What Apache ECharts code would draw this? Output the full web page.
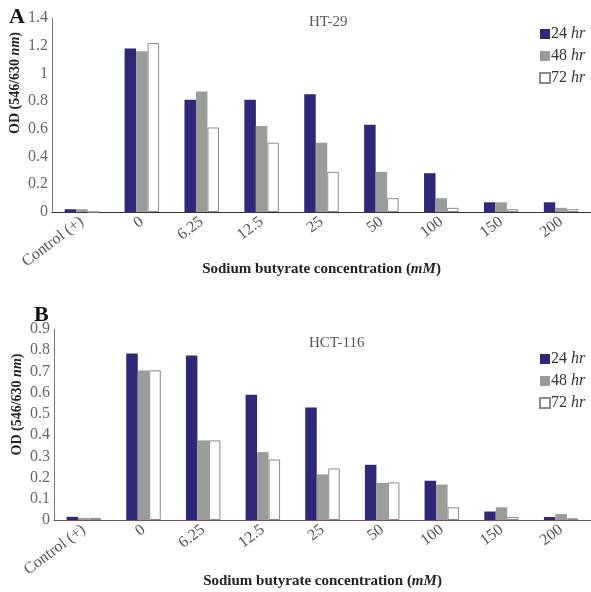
<!DOCTYPE html>
<html><head><meta charset="utf-8">
<script src="https://cdn.jsdelivr.net/npm/echarts@6/dist/echarts.min.js"></script>
<style>html,body{margin:0;padding:0;background:#fff}#c{width:591px;height:592px}</style>
</head><body><div id="c"></div>
<script>
const categories = ['Control (+)', '0', '6.25', '12.5', '25', '50', '100', '150', '200'];
const seriesNames = ['24 hr', '48 hr', '72 hr'];
// Panel A: HT-29
const ht29_24 = [0.02, 1.18, 0.81, 0.81, 0.85, 0.63, 0.28, 0.07, 0.07];
const ht29_48 = [0.02, 1.16, 0.87, 0.62, 0.50, 0.29, 0.10, 0.07, 0.03];
const ht29_72 = [0, 1.22, 0.61, 0.50, 0.29, 0.10, 0.03, 0.02, 0.02];
// Panel B: HCT-116
const hct116_24 = [0.015, 0.785, 0.775, 0.59, 0.53, 0.26, 0.185, 0.04, 0.014];
const hct116_48 = [0.01, 0.705, 0.375, 0.32, 0.215, 0.175, 0.167, 0.06, 0.028];
const hct116_72 = [0.01, 0.705, 0.375, 0.285, 0.243, 0.177, 0.06, 0.014, 0.008];
const yTicksA = {min: 0, max: 1.4, interval: 0.2};
const yTicksB = {min: 0, max: 0.9, interval: 0.1};

const serif = '"Liberation Serif", "DejaVu Serif", serif';
const colors = ['#2e2878', '#9b9b9b', '#ffffff'];
const borders = ['#2e2878', '#9b9b9b', '#8a8a8a'];

function xAxis(gridIndex, gap, lineColor) {
  return {
    type: 'category', gridIndex, data: categories,
    axisTick: {show: false},
    axisLine: {lineStyle: {color: lineColor, width: 1}},
    axisLabel: {rotate: 37, fontFamily: serif, fontSize: 16, color: '#555', margin: 8, interval: 0},
    name: '{b|Sodium butyrate concentration (}{i|mM}{b|)}',
    nameLocation: 'middle', nameGap: gap, nameMoveOverlap: false,
    nameTextStyle: {rich: {
      b: {fontFamily: serif, fontSize: 15, fontWeight: 'bold', color: '#222'},
      i: {fontFamily: serif, fontSize: 15, fontWeight: 'bold', fontStyle: 'italic', color: '#222'}
    }}
  };
}
function yAxis(gridIndex, t, pad) {
  return {
    type: 'value', gridIndex, min: t.min, max: t.max, interval: t.interval,
    splitLine: {show: false},
    axisTick: {show: false},
    axisLine: {show: true, lineStyle: {color: '#777', width: 1}},
    axisLabel: {fontFamily: serif, fontSize: 16, color: '#666', margin: 4},
    name: '{b|OD (546/630 }{i|nm}{b|)}',
    nameLocation: 'middle', nameGap: 30, nameRotate: 90, nameMoveOverlap: false,
    nameTextStyle: {padding: [0, 0, 0, pad], rich: {
      b: {fontFamily: serif, fontSize: 14, fontWeight: 'bold', color: '#222'},
      i: {fontFamily: serif, fontSize: 14, fontWeight: 'bold', fontStyle: 'italic', color: '#222'}
    }}
  };
}
function bar(name, data, idx, axisIdx) {
  return {
    type: 'bar', name, data, xAxisIndex: axisIdx, yAxisIndex: axisIdx,
    barWidth: 11.5, barGap: '0%',
    itemStyle: {color: colors[idx], borderColor: borders[idx], borderWidth: idx === 2 ? 1 : 0}
  };
}
function legend(top) {
  return {
    orient: 'vertical', left: 534, top, itemWidth: 10, itemHeight: 10, itemGap: 6,
    icon: 'rect', data: seriesNames, selectedMode: false,
    formatter: n => '{n|' + n.split(' ')[0] + ' }{i|hr}',
    textStyle: {padding: [0, 0, 0, -4], rich: {
      n: {fontFamily: serif, fontSize: 16, color: '#333'},
      i: {fontFamily: serif, fontSize: 16, fontStyle: 'italic', color: '#333'}
    }}
  };
}
const chart = echarts.init(document.getElementById('c'));
chart.setOption({
  animation: false,
  title: [
    {text: 'A', left: 4, top: 1, textStyle: {fontFamily: serif, fontSize: 22, fontWeight: 'bold', color: '#111'}},
    {text: 'HT-29', left: 304, top: 10, textStyle: {fontFamily: serif, fontSize: 15, fontWeight: 'normal', color: '#555'}},
    {text: 'B', left: 29, top: 299, textStyle: {fontFamily: serif, fontSize: 22, fontWeight: 'bold', color: '#111'}},
    {text: 'HCT-116', left: 304, top: 331, textStyle: {fontFamily: serif, fontSize: 15, fontWeight: 'normal', color: '#555'}}
  ],
  legend: [legend(21), legend(346)],
  grid: [
    {left: 52, top: 18, width: 539, height: 194, containLabel: false, outerBoundsMode: 'none'},
    {left: 54, top: 329, width: 537, height: 191, containLabel: false, outerBoundsMode: 'none'}
  ],
  xAxis: [xAxis(0, 50, '#333'), xAxis(1, 54, '#7d4f55')],
  yAxis: [yAxis(0, yTicksA, 64), yAxis(1, yTicksB, 40)],
  series: [
    bar(seriesNames[0], ht29_24, 0, 0), bar(seriesNames[1], ht29_48, 1, 0), bar(seriesNames[2], ht29_72, 2, 0),
    bar(seriesNames[0], hct116_24, 0, 1), bar(seriesNames[1], hct116_48, 1, 1), bar(seriesNames[2], hct116_72, 2, 1)
  ]
});
</script></body></html>
